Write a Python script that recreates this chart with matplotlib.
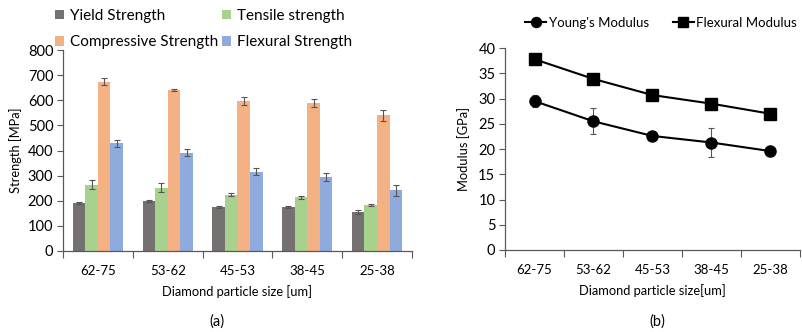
import numpy as np
import matplotlib.pyplot as plt

plt.rcParams['font.family'] = ['Lato', 'DejaVu Sans']

# Particle size classes
sizes = ['62-75', '53-62', '45-53', '38-45', '25-38']

# Strength values [MPa] and standard deviations
yield_str = [192, 199, 176, 174, 155]
yield_err = [5, 3, 3, 4, 7]
tensile_str = [263, 252, 224, 214, 183]
tensile_err = [18, 17, 5, 7, 5]
compressive_str = [675, 642, 598, 589, 540]
compressive_err = [13, 5, 16, 17, 21]
flexural_str = [430, 392, 316, 294, 241]
flexural_err = [14, 13, 13, 17, 20]

# Modulus values [GPa]
young_mod = [29.5, 25.5, 22.6, 21.3, 19.6]
young_err = [1.2, 2.6, 0.3, 2.8, 0.3]
flexural_mod = [37.8, 33.9, 30.7, 29.0, 27.0]

series = [
    ('Yield Strength', yield_str, yield_err, '#767171'),
    ('Tensile strength', tensile_str, tensile_err, '#A9D18E'),
    ('Compressive Strength', compressive_str, compressive_err, '#F4B183'),
    ('Flexural Strength', flexural_str, flexural_err, '#8FAADC'),
]

fig = plt.figure(figsize=(8.03, 3.32), dpi=100)
ax1 = fig.add_axes([0.0785, 0.244, 0.4345, 0.605])
ax2 = fig.add_axes([0.629, 0.247, 0.367, 0.608])

x = np.arange(len(sizes))
w = 0.18
bars = []
for i, (name, vals, errs, col) in enumerate(series):
    pos = x + (i - 1.5) * w
    bars.append(ax1.bar(pos, vals, width=w, color=col, label=name, zorder=2))
    ax1.errorbar(pos, vals, yerr=errs, fmt='none', ecolor='#555555',
                 elinewidth=0.8, capsize=2, capthick=0.8, zorder=3)

ax2.plot(x, young_mod, color='black', marker='o', markersize=8, lw=1.5,
         label="Young's Modulus", zorder=3)
ax2.errorbar(x, young_mod, yerr=young_err, fmt='none', ecolor='#555555',
             elinewidth=0.8, capsize=2, capthick=0.8, zorder=2)
ax2.plot(x, flexural_mod, color='black', marker='s', markersize=8, lw=1.5,
         label='Flexural Modulus', zorder=3)

for ax in (ax1, ax2):
    ax.set_xlim(-0.5, len(sizes) - 0.5)
    ax.set_xticks(np.arange(len(sizes) + 1) - 0.5)
    ax.set_xticklabels([])
    ax.set_xticks(x, minor=True)
    ax.set_xticklabels(sizes, minor=True, fontsize=9.5)
    ax.tick_params(axis='x', which='major', length=5, color='#595959', direction='out')
    ax.tick_params(axis='x', which='minor', length=0, pad=10)
    ax.tick_params(axis='y', length=4, color='#595959', labelsize=10.5, pad=3)
    for s in ('top', 'right'):
        ax.spines[s].set_visible(False)
    for s in ('left', 'bottom'):
        ax.spines[s].set_color('#595959')
        ax.spines[s].set_linewidth(0.9)

ax1.set_ylim(0, 800)
ax1.set_yticks(range(0, 801, 100))
ax1.set_ylabel('Strength [MPa]', fontsize=9.3, labelpad=4)
ax1.set_xlabel('Diamond particle size [um]', fontsize=9.3, labelpad=6)
# row-major order in a two-column legend
order = [0, 2, 1, 3]
ax1.legend([bars[k] for k in order], [series[k][0] for k in order],
           loc='lower left', bbox_to_anchor=(-0.04, 0.975), ncol=2, frameon=False,
           fontsize=11, handlelength=0.6, handleheight=0.6, handletextpad=0.4,
           columnspacing=0.2, labelspacing=0.8, borderaxespad=0)

ax2.set_ylim(0, 40)
ax2.set_yticks(range(0, 41, 5))
ax2.set_ylabel('Modulus [GPa]', fontsize=9.3, labelpad=6)
ax2.set_xlabel('Diamond particle size[um]', fontsize=9.3, labelpad=6)
ax2.legend(loc='lower left', bbox_to_anchor=(0.05, 1.07), ncol=2, frameon=False,
           fontsize=9.5, handlelength=1.6, handletextpad=0.2, columnspacing=1.8,
           markerscale=0.9, borderaxespad=0)

fig.text(0.270, 0.02, '(a)', ha='center', fontsize=10.5)
fig.text(0.819, 0.02, '(b)', ha='center', fontsize=10.5)

fig.savefig('out.png', dpi=100)
